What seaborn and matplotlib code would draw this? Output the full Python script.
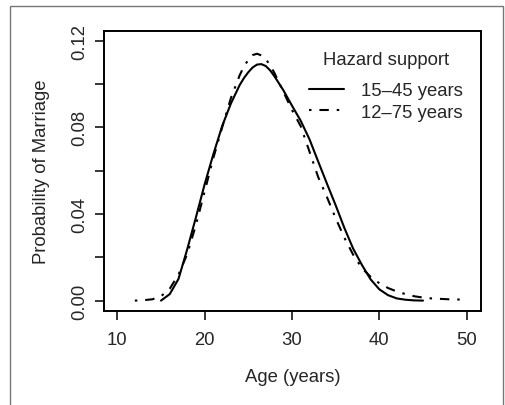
import numpy as np
import pandas as pd
import matplotlib
matplotlib.use("Agg")
import matplotlib.pyplot as plt
import seaborn as sns
from matplotlib.patches import Rectangle

# hazard support 15-45 years (solid)
age_a = [15, 16, 17, 18, 19, 20, 21, 22, 23, 24, 24.5, 25, 25.5, 26, 26.5, 27, 27.5, 28,
         29, 30, 31, 32, 33, 34, 35, 36, 37, 38, 39, 40, 41, 42, 43, 44, 45]
prob_a = [0.0000, 0.0030, 0.0100, 0.0237, 0.0385, 0.0538, 0.0677, 0.0806, 0.0910, 0.0995,
          0.1028, 0.1055, 0.1077, 0.1090, 0.1092, 0.1083, 0.1063, 0.1035,
          0.0972, 0.0900, 0.0830, 0.0745, 0.0642, 0.0540, 0.0440, 0.0335, 0.0240, 0.0165,
          0.0098, 0.0052, 0.0025, 0.0010, 0.0004, 0.0001, 0.0000]

# hazard support 12-75 years (dot-dash)
age_b = [12, 13, 14, 15, 16, 17, 18, 19, 20, 21, 22, 23, 24, 24.5, 25, 25.5, 26, 26.5,
         27, 27.5, 28, 29, 30, 31, 32, 33, 34, 35, 36, 37, 38, 39, 40, 41, 42, 43, 44,
         45, 46, 47, 48, 49, 50]
prob_b = [0.0000, 0.0002, 0.0006, 0.0020, 0.0055, 0.0120, 0.0215, 0.0350, 0.0505, 0.0660,
          0.0800, 0.0935, 0.1040, 0.1082, 0.1112, 0.1134, 0.1140, 0.1132,
          0.1115, 0.1086, 0.1050, 0.0965, 0.0880, 0.0805, 0.0688, 0.0570, 0.0478, 0.0380,
          0.0290, 0.0212, 0.0150, 0.0110, 0.0080, 0.0058, 0.0042, 0.0030, 0.0020,
          0.0014, 0.0010, 0.0008, 0.0006, 0.0005, 0.0004]

x_ticks = [10, 20, 30, 40, 50]
y_ticks = [0.00, 0.02, 0.04, 0.06, 0.08, 0.10, 0.12]
y_labels = ["0.00", "", "0.04", "", "0.08", "", "0.12"]

fs = 13.3
sns.set_style("ticks")
plt.rcParams["font.family"] = ["Liberation Sans", "DejaVu Sans"]
plt.rcParams["font.size"] = fs

fig = plt.figure(figsize=(5.05, 4.06), dpi=100)
ax = fig.add_axes([104 / 505, 1 - 312 / 406, (481 - 104) / 505, (312 - 32) / 406])

sns.lineplot(x=age_a, y=prob_a, ax=ax, color="black", linewidth=1.5, label="15\u201345 years")
sns.lineplot(x=age_b, y=prob_b, ax=ax, color="black", linewidth=1.5, label="12\u201375 years")
ax.lines[1].set_dashes((1.2, 3.8, 4.5, 3.8))

ax.set_xlim(8.47, 51.64)
ax.set_ylim(-0.0048, 0.1245)
ax.set_xticks(x_ticks)
ax.set_xticklabels([str(t) for t in x_ticks])
ax.set_yticks(y_ticks)
ax.set_yticklabels(y_labels, rotation=90, va="center")
ax.tick_params(axis="both", length=6.5, width=1.1, color="black", labelsize=fs)
ax.tick_params(axis="y", pad=5)
ax.tick_params(axis="x", pad=8)

for s in ax.spines.values():
    s.set_visible(True)
    s.set_linewidth(1.4)
    s.set_color("black")

ax.set_xlabel("Age (years)", fontsize=fs, labelpad=14)
ax.set_ylabel("Probability of Marriage", fontsize=fs, labelpad=15)

leg = ax.legend(title="Hazard support", frameon=False, loc="upper right",
                bbox_to_anchor=(0.971, 0.954), handlelength=1.9, handletextpad=0.92,
                labelspacing=0.26, borderaxespad=0, fontsize=fs, title_fontsize=fs)
leg._legend_box.align = "center"
leg._legend_box.sep = 10

fig.patches.append(Rectangle((10 / 505, -0.1), (503 - 10) / 505, 1.1 - 7 / 406,
                             transform=fig.transFigure, fill=False,
                             edgecolor="#777777", linewidth=1.0))

fig.savefig("out.png", dpi=100)
